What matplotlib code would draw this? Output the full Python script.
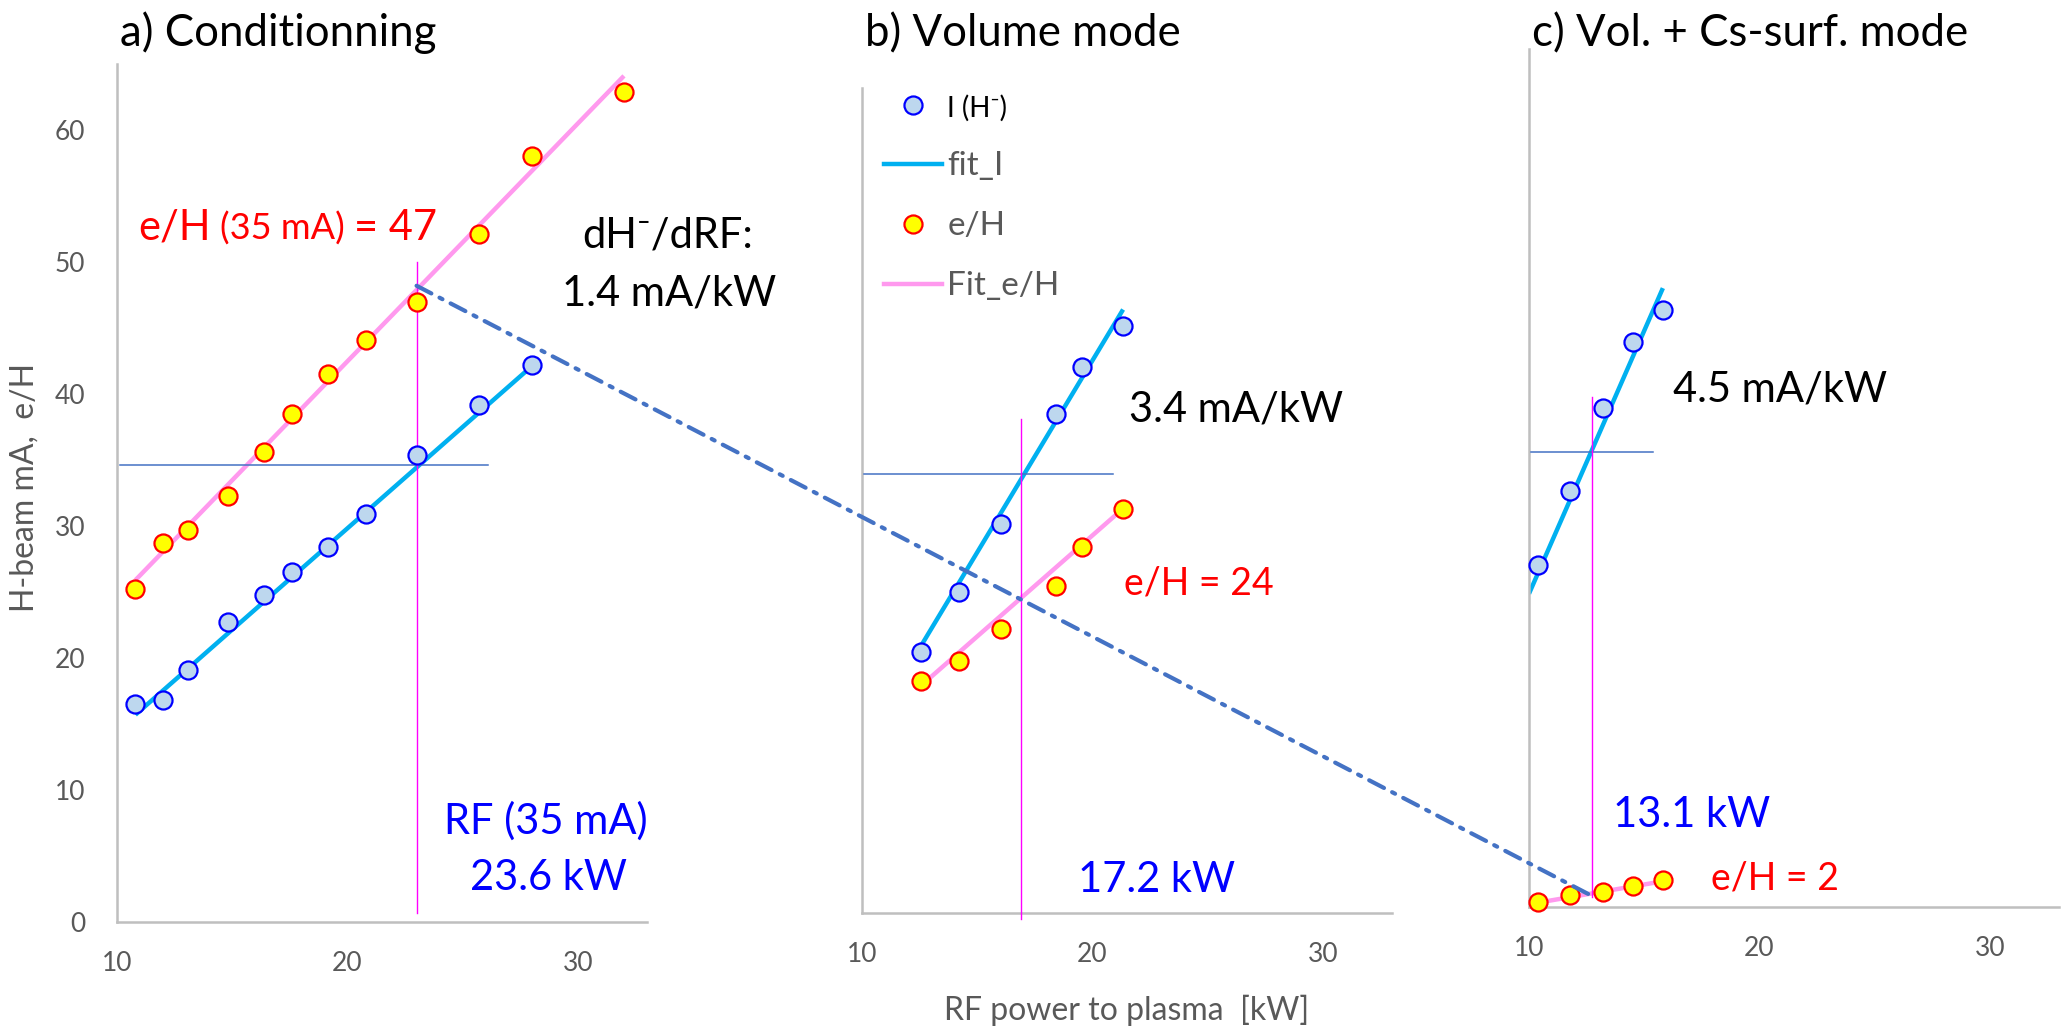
import matplotlib
matplotlib.use("Agg")
import matplotlib.pyplot as plt
from matplotlib.lines import Line2D
from matplotlib.patches import ConnectionPatch
from matplotlib.transforms import offset_copy

plt.rcParams['font.family'] = ['Lato', 'DejaVu Sans']

# ---- data ----
# a) Conditionning
rf_a_I = [10.8, 12.0, 13.1, 14.8, 16.4, 17.6, 19.15, 20.8, 23.0, 25.7, 28.0]
ih_a = [16.5, 16.8, 19.1, 22.7, 24.8, 26.5, 28.4, 30.9, 35.4, 39.2, 42.2]
rf_a_eh = [10.8, 12.0, 13.1, 14.8, 16.4, 17.6, 19.15, 20.8, 23.0, 25.7, 28.0, 32.0]
eh_a = [25.2, 28.7, 29.7, 32.3, 35.6, 38.5, 41.5, 44.1, 47.0, 52.1, 58.0, 62.9]
fit_a_I_x, fit_a_I_y = [10.8, 27.8], [15.7, 41.8]
fit_a_eh_x, fit_a_eh_y = [10.8, 32.0], [25.9, 64.1]

# b) Volume mode
rf_b = [12.56, 14.19, 16.02, 18.42, 19.55, 21.33]
ih_b = [20.3, 25.0, 30.3, 38.9, 42.5, 45.7]
eh_b = [18.1, 19.6, 22.1, 25.5, 28.5, 31.5]
fit_b_I_x, fit_b_I_y = [12.56, 21.33], [20.8, 47.0]
fit_b_eh_x, fit_b_eh_y = [12.56, 21.33], [17.7, 31.5]

# c) Vol. + Cs-surf. mode
rf_c = [10.40, 11.80, 13.19, 14.51, 15.81]
ih_c = [26.6, 32.4, 38.9, 44.0, 46.5]
eh_c = [0.4, 0.9, 1.2, 1.6, 2.1]
fit_c_I_x, fit_c_I_y = [10.0, 15.81], [24.4, 48.2]
fit_c_eh_x, fit_c_eh_y = [10.1, 15.8], [0.25, 2.0]

# 35 mA crossing lines (horizontal level, its x-span, vertical RF, its y-span)
h_level = [34.6, 34.2, 35.4]
h_span = [(10.15, 26.1), (10.1, 20.9), (10.08, 15.39)]
v_rf = [23.0, 16.9, 12.72]
v_span = [(0.7, 50.0), (-0.5, 38.5), (0.8, 39.7)]

titles = ["a) Conditionning", "b) Volume mode", "c) Vol. + Cs-surf. mode"]
xticks = [10, 20, 30]
yticks = [0, 10, 20, 30, 40, 50, 60]

C_FIT_I = "#00B0F0"
C_FIT_EH = "#FF99EE"
C_REF = "#4472C4"
C_GRAY = "#595959"

W, H = 2062, 1031
fig = plt.figure(figsize=(W / 100, H / 100), dpi=100)

# axes boxes in pixels: left, bottom(from top), top(from top), y-units per px
boxes = [(117, 922, 64, 13.2), (862, 913, 88, 12.84), (1529, 907, 49, 12.84)]
axes = []
for left, base, top, ppu in boxes:
    ax = fig.add_axes([left / W, (H - base) / H, 530 / W, (base - top) / H])
    ax.set_xlim(10, 33)
    ax.set_ylim(0, (base - top) / ppu)
    for s in ["top", "right"]:
        ax.spines[s].set_visible(False)
    for s in ["left", "bottom"]:
        ax.spines[s].set_color("#BFBFBF")
        ax.spines[s].set_linewidth(1.8)
    ax.set_xticks(xticks)
    ax.tick_params(axis="x", length=0, pad=21, labelsize=19, labelcolor=C_GRAY)
    ax.set_yticks([])
    ax.patch.set_alpha(0)
    axes.append(ax)
ax_a, ax_b, ax_c = axes
ax_a.set_yticks(yticks)
ax_a.tick_params(axis="y", length=0, pad=23, labelsize=19, labelcolor=C_GRAY)

panels = [
    (rf_a_I, ih_a, rf_a_eh, eh_a, fit_a_I_x, fit_a_I_y, fit_a_eh_x, fit_a_eh_y),
    (rf_b, ih_b, rf_b, eh_b, fit_b_I_x, fit_b_I_y, fit_b_eh_x, fit_b_eh_y),
    (rf_c, ih_c, rf_c, eh_c, fit_c_I_x, fit_c_I_y, fit_c_eh_x, fit_c_eh_y),
]
for i, (ax, p) in enumerate(zip(axes, panels)):
    xi, yi, xe, ye, fxi, fyi, fxe, fye = p
    ax.plot(fxe, fye, color=C_FIT_EH, lw=3.2, solid_capstyle="butt", zorder=2)
    ax.plot(fxi, fyi, color=C_FIT_I, lw=3.2, solid_capstyle="butt", zorder=2)
    ax.plot(h_span[i], [h_level[i], h_level[i]], color=C_REF, lw=1.1, zorder=3)
    ax.plot([v_rf[i], v_rf[i]], v_span[i], color="#FF00FF", lw=1.0, zorder=3, clip_on=False)
    ax.plot(xi, yi, "o", ms=13, mfc="#BDD7EE", mec="#0000FF", mew=1.6, zorder=4, clip_on=False)
    ax.plot(xe, ye, "o", ms=13, mfc="#FFFF00", mec="#FF0000", mew=1.6, zorder=4, clip_on=False)

# dash-dot link between the e/H values at 35 mA
con = ConnectionPatch(xyA=(v_rf[0], 48.2), coordsA=ax_a.transData,
                      xyB=(12.8, 0.8), coordsB=ax_c.transData,
                      color=C_REF, lw=3.0, linestyle=(0, (4, 2.2, 0.8, 2.2)),
                      arrowstyle="-", shrinkA=0, shrinkB=0, zorder=5)
fig.add_artist(con)

# titles, same baseline for all three panels
for ax, t in zip(axes, titles):
    x0 = ax.get_position().x0
    fig.text(x0 + 3 / W, 1 - 46 / H, t, fontsize=31.5, color="black",
             ha="left", va="baseline")

# annotations
renderer = fig.canvas.get_renderer()


def parts_text(ax, x, y, parts, color, gap=9):
    dx = 0
    for s, size in parts:
        tr = offset_copy(ax.transData, fig=fig, x=dx, y=0, units="dots")
        t = ax.text(x, y, s, fontsize=size, color=color, transform=tr,
                    ha="left", va="baseline", clip_on=False)
        dx += t.get_window_extent(renderer).width + gap


parts_text(ax_a, 10.93, 51.7, [("e/H", 30), ("(35 mA)", 26), ("= 47", 30)], "#FF0000")
ax_a.text(30.2, 51.1, "dH\u207b/dRF:", fontsize=30, color="black", va="baseline")
ax_a.text(29.3, 46.7, "1.4 mA/kW", fontsize=30, color="black", va="baseline")
ax_a.text(24.18, 6.7, "RF (35 mA)", fontsize=30, color="#0000FF", va="baseline")
ax_a.text(25.34, 2.4, "23.6 kW", fontsize=30, color="#0000FF", va="baseline")

ax_b.text(21.57, 38.3, "3.4 mA/kW", fontsize=30, color="black", va="baseline")
ax_b.text(21.38, 24.8, "e/H = 24", fontsize=27, color="#FF0000", va="baseline")
ax_b.text(19.36, 1.6, "17.2 kW", fontsize=30, color="#0000FF", va="baseline")

ax_c.text(16.24, 39.4, "4.5 mA/kW", fontsize=30, color="black", va="baseline")
ax_c.text(13.65, 6.2, "13.1 kW", fontsize=30, color="#0000FF", va="baseline")
ax_c.text(17.9, 1.4, "e/H = 2", fontsize=27, color="#FF0000", va="baseline")

# legend in panel b
handles = [
    Line2D([], [], ls="none", marker="o", ms=13, mfc="#BDD7EE", mec="#0000FF", mew=1.6),
    Line2D([], [], color=C_FIT_I, lw=3.2),
    Line2D([], [], ls="none", marker="o", ms=13, mfc="#FFFF00", mec="#FF0000", mew=1.6),
    Line2D([], [], color=C_FIT_EH, lw=3.2),
]
labels = ["I (H\u207b)", "fit_I", "e/H", "Fit_e/H"]
leg = ax_b.legend(handles, labels, loc="upper left",
                  bbox_to_anchor=(884 / W, 1 - 93 / H), bbox_transform=fig.transFigure,
                  frameon=False, fontsize=24, handlelength=1.75, handletextpad=0.15,
                  labelspacing=0.9, borderpad=0, borderaxespad=0, numpoints=1)
for k, txt in enumerate(leg.get_texts()):
    txt.set_color("black" if k == 0 else C_GRAY)
leg.get_texts()[0].set_fontsize(20)

fig.text(0.012, 0.527, "H-beam mA,  e/H", rotation=90, fontsize=23, color=C_GRAY,
         ha="center", va="center")
fig.text(1127 / W, 11 / H, "RF power to plasma  [kW]", fontsize=23, color=C_GRAY,
         ha="center", va="baseline")

fig.savefig("out.png", dpi=100)
